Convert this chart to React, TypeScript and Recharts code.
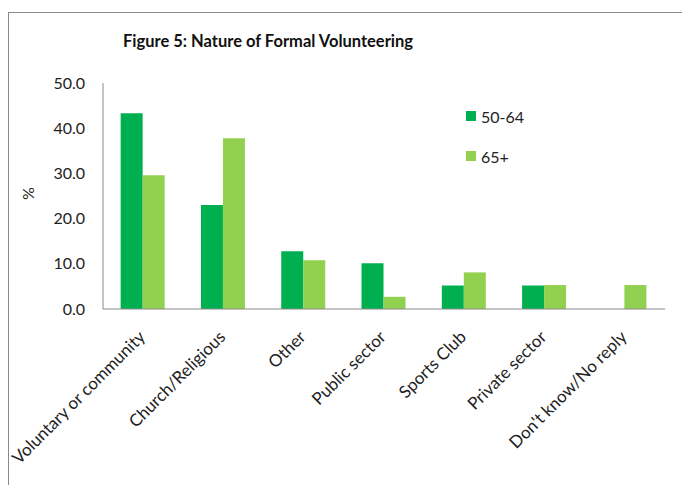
import React from "react"
import { Bar, BarChart, Legend, XAxis, YAxis } from "recharts"

const categories = [
  "Voluntary or community",
  "Church/Religious",
  "Other",
  "Public sector",
  "Sports Club",
  "Private sector",
  "Don't know/No reply",
]
const age5064 = [43.3, 23.0, 12.8, 10.1, 5.2, 5.2, null]
const age65plus = [29.6, 37.8, 10.8, 2.7, 8.1, 5.3, 5.3]
const yTicks = [0, 10, 20, 30, 40, 50]

const FONT = "Lato, 'Open Sans', sans-serif"
const DARK = "#00B050"
const LIGHT = "#92D050"

const data = categories.map((name, i) => ({
  name,
  a: age5064[i],
  b: age65plus[i],
}))

function XTick(props: any) {
  const { x, y, payload } = props
  return (
    <g transform={`translate(${x + 3},${y + 21})`}>
      <text
        transform="rotate(-45)"
        textAnchor="end"
        fontSize={17}
        fontFamily={FONT}
        fill="#222"
      >
        {payload.value}
      </text>
    </g>
  )
}

function LegendBox() {
  const items = [
    { label: "50-64", color: DARK },
    { label: "65+", color: LIGHT },
  ]
  return (
    <div style={{ fontFamily: FONT, fontSize: 16, color: "#222" }}>
      {items.map((it) => (
        <div key={it.label} style={{ display: "flex", alignItems: "center", height: 40 }}>
          <span style={{ width: 10, height: 10, background: it.color, marginRight: 5 }} />
          {it.label}
        </div>
      ))}
    </div>
  )
}

export default function App() {
  return (
    <div style={{ position: "absolute", left: 0, top: 0, width: 682, height: 485, background: "#fff" }}>
      <div
        style={{
          position: "absolute",
          left: 8,
          top: 12,
          width: 674,
          height: 473,
          borderTop: "1px solid #8a8a8a",
          borderLeft: "1px solid #8a8a8a",
        }}
      />
      <div
        style={{
          position: "absolute",
          left: 0,
          width: 536,
          top: 31,
          textAlign: "center",
          fontFamily: FONT,
          fontWeight: 700,
          fontSize: 16.5,
          color: "#111",
        }}
      >
        Figure 5: Nature of Formal Volunteering
      </div>
      <div
        style={{
          position: "absolute",
          left: 21,
          top: 184,
          transform: "rotate(-90deg)",
          fontFamily: FONT,
          fontSize: 16,
          color: "#222",
        }}
      >
        %
      </div>
      <div style={{ position: "absolute", left: 0, top: 0 }}>
        <BarChart
          width={682}
          height={485}
          data={data}
          margin={{ top: 83, right: 17, bottom: 0, left: 30 }}
          barCategoryGap="22%"
          barGap={0}
        >
          <XAxis
            dataKey="name"
            interval={0}
            tickLine={false}
            axisLine={{ stroke: "#8a8a8a" }}
            tick={<XTick />}
            height={176}
          />
          <YAxis
            domain={[0, 50]}
            ticks={yTicks}
            tickFormatter={(v: number) => v.toFixed(1)}
            tickLine={false}
            tickSize={0}
            tickMargin={18}
            width={73}
            axisLine={{ stroke: "#8a8a8a" }}
            tick={{ fontSize: 16, fontFamily: FONT, fill: "#222" }}
          />
          <Legend
            layout="vertical"
            align="center"
            verticalAlign="middle"
            content={<LegendBox />}
            wrapperStyle={{ position: "absolute", left: 466, top: 96, width: 80 }}
          />
          <Bar dataKey="a" name="50-64" fill={DARK} isAnimationActive={false} />
          <Bar dataKey="b" name="65+" fill={LIGHT} isAnimationActive={false} />
        </BarChart>
      </div>
    </div>
  )
}
